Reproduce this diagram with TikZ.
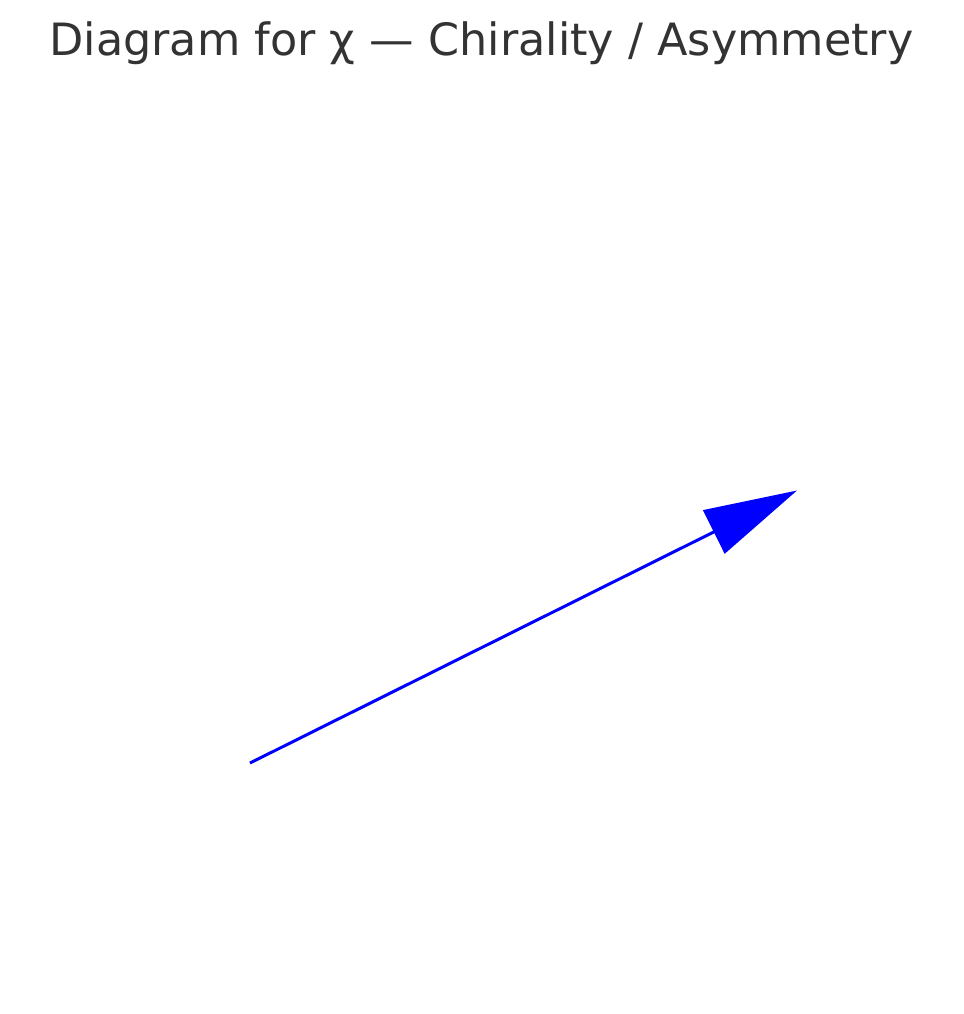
\documentclass[tikz,border=0pt]{standalone}
\usepackage{fontspec}
\setmainfont{DejaVu Sans}
\usetikzlibrary{arrows.meta}
\definecolor{titlegray}{HTML}{333333}
\definecolor{arrowblue}{HTML}{0000FF}
\tikzset{
  titletext/.style={text=titlegray, font=\fontsize{44.5bp}{54bp}\selectfont, anchor=base, inner sep=0pt},
  vecarrow/.style={draw=arrowblue, line width=3bp, -{Triangle[length=93bp,width=48bp,fill=arrowblue]}}
}
\begin{document}
\begin{tikzpicture}[x=1bp,y=-1bp]
\useasboundingbox[fill=white] (0,0) rectangle (964,1014);
\node[titletext] (title) at (481.5,55) {Diagram for χ — Chirality / Asymmetry};
\coordinate (start) at (250,763);
\coordinate (tip) at (797,490.5);
\draw[vecarrow] (start) -- (tip);
\end{tikzpicture}
\end{document}
